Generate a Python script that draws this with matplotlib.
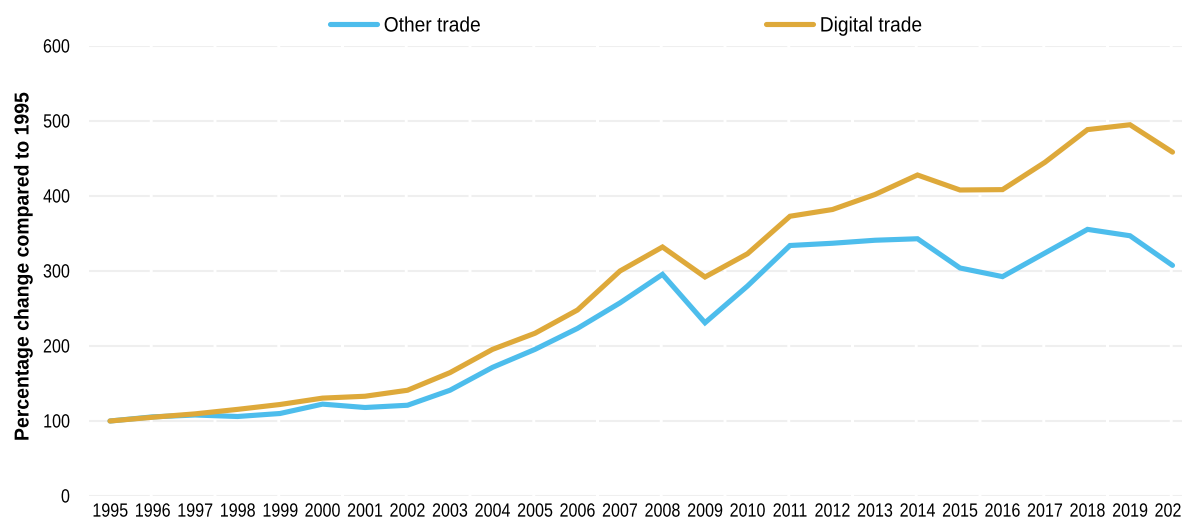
import matplotlib
matplotlib.use("Agg")
import matplotlib.pyplot as plt
from matplotlib.patheffects import AbstractPathEffect
from matplotlib.transforms import Affine2D

years = [str(y) for y in range(1995, 2021)]
other_trade = [100, 105.5, 108, 106, 110, 122.5, 118, 121, 141, 171.5, 195.5, 223.5,
               257.5, 295.5, 231, 280, 334, 337, 341, 343, 304, 292.5, 324, 355.5, 347, 307.5]
digital_trade = [100, 105, 109.5, 115.5, 122, 130.5, 133, 141, 164.5, 195.5, 217, 248,
                 300, 332, 292, 323, 373, 382, 402, 428, 408, 408.5, 445, 488.5, 495, 458.5]
y_ticks = [0, 100, 200, 300, 400, 500, 600]
series_names = ['Other trade', 'Digital trade']

plt.rcParams['font.family'] = ['Liberation Sans', 'DejaVu Sans']


class Condense(AbstractPathEffect):
    """Horizontally condense text glyphs (imitates a narrow typeface)."""
    def __init__(self, s=0.84, anchor='center'):
        super().__init__()
        self.s = s
        self.anchor = anchor

    def draw_path(self, renderer, gc, tpath, affine, rgbFace=None):
        ext = tpath.get_extents()
        if self.anchor == 'center':
            cx = (ext.x0 + ext.x1) / 2
        elif self.anchor == 'right':
            cx = ext.x1
        else:
            cx = ext.x0
        t = Affine2D().translate(-cx, 0).scale(self.s, 1).translate(cx, 0) + affine
        renderer.draw_path(gc, tpath, t, rgbFace)


W, H = 1182, 520
fig = plt.figure(figsize=(W / 100, H / 100), dpi=100)
left = 88.75 / W
right = 1193.75 / W
bottom = (H - 496) / H
top = (H - 46) / H
ax = fig.add_axes([left, bottom, right - left, top - bottom])

x = list(range(len(years)))
blue = '#4DBDEC'
gold = '#DEA93A'
lw = 3.7
l1, = ax.plot(x, other_trade, color=blue, lw=lw, solid_capstyle='round',
              solid_joinstyle='miter', zorder=3)
l2, = ax.plot(x, digital_trade, color=gold, lw=lw, solid_capstyle='round',
              solid_joinstyle='miter', zorder=4)

ax.set_xlim(-0.5, len(years) - 0.5)
ax.set_ylim(0, 600)
ax.set_yticks(y_ticks)
ax.set_yticklabels([str(v) for v in y_ticks])
ax.set_xticks(x)
ax.set_xticklabels(years)
ax.tick_params(axis='both', length=0, labelsize=13.8, colors='black')
ax.tick_params(axis='y', pad=13.5)
ax.tick_params(axis='x', pad=5.5)
for t in ax.get_xticklabels():
    t.set_path_effects([Condense(0.84, 'center')])
for t in ax.get_yticklabels():
    t.set_path_effects([Condense(0.84, 'right')])
for s in ax.spines.values():
    s.set_visible(False)

for v in y_ticks:
    ax.axhline(v, color='#EFEFEF', lw=1.5, zorder=1,
               dashes=(40.5 * 0.72, 2 * 0.72), dash_capstyle='butt')

yl = fig.text(23 / W, 1 - 266.5 / H, 'Percentage change compared to 1995', rotation=90,
              ha='center', va='center', fontsize=14.5, fontweight='bold')
yl.set_path_effects([Condense(0.965, 'center')])

for handle, name, xpos in [(l1, series_names[0], 329.5), (l2, series_names[1], 765.5)]:
    leg = fig.legend([handle], [name], loc='center left', bbox_to_anchor=(xpos / W, 1 - 26 / H),
                     frameon=False, fontsize=15, handlelength=2.3, handletextpad=0.3,
                     borderpad=0, borderaxespad=0)
    for t in leg.get_texts():
        t.set_path_effects([Condense(0.92, 'left')])
    for l in leg.get_lines():
        l.set_linewidth(lw)
        l.set_solid_capstyle('round')

fig.savefig('out.png', dpi=100)
